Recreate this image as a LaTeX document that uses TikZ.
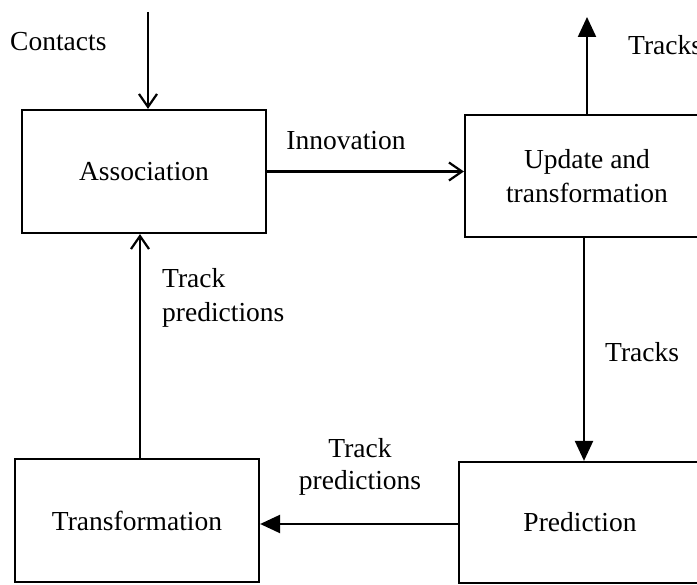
\documentclass[tikz,border=0pt]{standalone}
\usepackage{fontspec}
\setmainfont{Liberation Serif}
\usetikzlibrary{arrows.meta,calc}
\begin{document}
\begin{tikzpicture}[x=1pt,y=-1pt,
  every node/.style={font=\fontsize{27.5}{34}\selectfont, inner sep=0pt},
  block/.style={draw, line width=2.2pt, rectangle, align=center},
  flow/.style={line width=2.2pt},
  openhead/.style={flow, -{Straight Barb[length=13pt,width=18pt,line width=2.2pt]}},
  solidhead/.style={flow, -{Triangle[length=20pt,width=18pt]}},
  lbl/.style={align=left}]
\useasboundingbox (0,0) rectangle (697,585);
\clip (0,0) rectangle (697,585);

% processing blocks
\node[block, minimum width=244pt, minimum height=123pt] (assoc) at (144,171.5) {Association};
\node[block, minimum width=244pt, minimum height=122pt] (update) at (587,176) {Update and\\transformation};
\node[block, minimum width=244pt, minimum height=123pt] (trans) at (137,520.5) {Transformation};
\node[block, minimum width=242pt, minimum height=121pt] (pred) at (580,522.5) {Prediction};

% free ends of the external connectors
\coordinate (cin) at (148,12);
\coordinate (tout) at (587,17);
\coordinate (upx) at (140,0);
\coordinate (downx) at (584,0);

% connectors
\draw[openhead] (cin) -- (cin |- assoc.north);
\draw[openhead] (assoc.east) -- (assoc.east -| update.west);
\draw[solidhead] (update.north) -- (tout);
\draw[solidhead] (downx |- update.south) -- (downx |- pred.north);
\draw[solidhead] (pred.west |- 0,524) -- (trans.east |- 0,524);
\draw[openhead] (upx |- trans.north) -- (upx |- assoc.south);

% labels
\node[anchor=west] (lcontacts) at (10,42) {Contacts};
\node (linnov) at (346,141) {Innovation};
\node[anchor=west] (ltracksout) at (628,45) {Tracks};
\node[anchor=west] (ltracks) at (605,352) {Tracks};
\node[lbl, anchor=north west] (lpredup) at (162,268) {Track\\predictions};
\node[align=center, font=\fontsize{27.5}{32}\selectfont] (lpredleft) at (360,467) {Track\\predictions};
\end{tikzpicture}
\end{document}
